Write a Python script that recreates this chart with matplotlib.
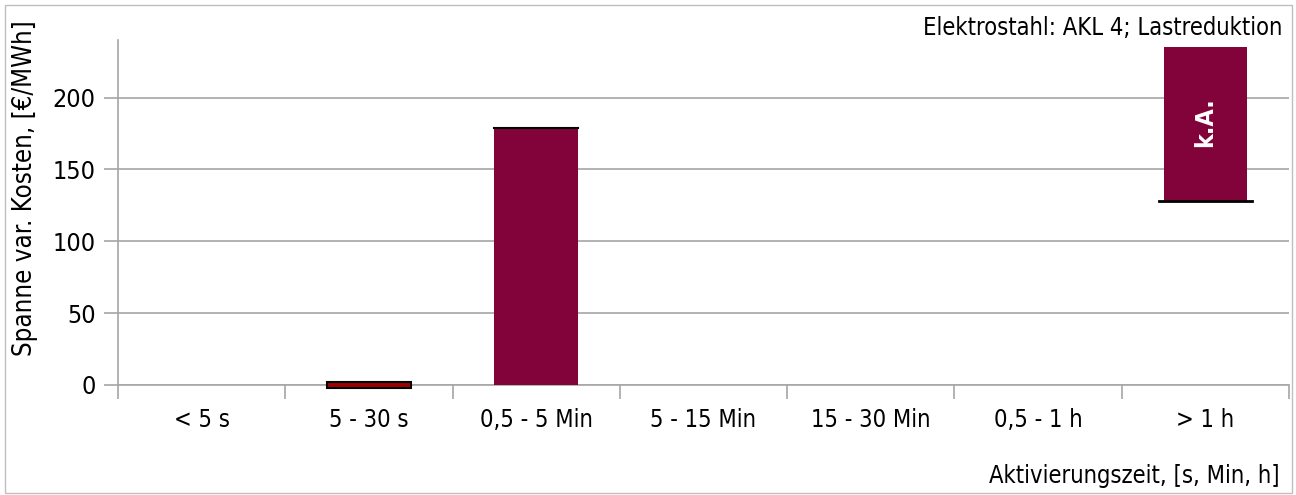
import matplotlib
matplotlib.use("Agg")
import matplotlib.pyplot as plt
from matplotlib.patches import Rectangle
from matplotlib import font_manager

categories = ["< 5 s", "5 - 30 s", "0,5 - 5 Min", "5 - 15 Min", "15 - 30 Min", "0,5 - 1 h", "> 1 h"]
# cost range per activation time: lower and upper bound (None = no data)
range_low = [None, -2, 0, None, None, None, 128]
range_high = [None, 2, 179, None, None, None, 235]
bar_notes = ["", "", "", "", "", "", "k.A."]
yticks = [0, 50, 100, 150, 200]

has_condensed = any(f.name == "DejaVu Sans" and f.stretch == "condensed"
                    for f in font_manager.fontManager.ttflist)
plt.rcParams["font.family"] = "DejaVu Sans"
if has_condensed:
    plt.rcParams["font.stretch"] = "condensed"
fs = 17 if has_condensed else 15

maroon = "#82033A"
grid_c = "#A6A6A6"

fig = plt.figure(figsize=(12.96, 4.95), dpi=100)
ax_w = 1289 - 118
ax = fig.add_axes([118 / 1296, 1 - 385 / 495, ax_w / 1296, (385 - 40) / 495])
ax.set_xlim(0, len(categories))
ax.set_ylim(0, 240)

for i, (lo, hi) in enumerate(zip(range_low, range_high)):
    if lo is None:
        continue
    x0 = i + 0.25
    if i == 1:
        ax.add_patch(Rectangle((x0, lo), 0.5, hi - lo, facecolor="#A00000",
                               edgecolor="black", linewidth=1.5, zorder=3, clip_on=False))
    else:
        ax.add_patch(Rectangle((x0, lo), 0.5, hi - lo, facecolor=maroon,
                               edgecolor="none", zorder=3))
    if bar_notes[i]:
        ax.text(i + 0.5, (lo + hi) / 2 + 1.5, bar_notes[i], rotation=90, color="white",
                ha="center", va="center", fontsize=fs + 1, fontweight="semibold", zorder=4)

# dark edge lines on the range bars
ax.plot([2.25, 2.75], [range_high[2], range_high[2]], color="black", lw=1.5, zorder=4)
ax.plot([6.22, 6.78], [range_low[6], range_low[6]], color="black", lw=2, zorder=4)

ax.set_yticks(yticks)
ax.set_yticklabels([str(v) for v in yticks], fontsize=fs + 1)
ax.yaxis.grid(True, color=grid_c, lw=1.2)
ax.set_axisbelow(True)
ax.tick_params(axis="y", length=10, color=grid_c, width=1.2, pad=6)

ax.set_xticks(range(len(categories) + 1))
ax.set_xticklabels([])
ax.tick_params(axis="x", length=10, color=grid_c, width=1.2)
for i, c in enumerate(categories):
    ax.text(i + 0.5, -24.5, c, ha="center", va="center", fontsize=fs)

for s in ["top", "right"]:
    ax.spines[s].set_visible(False)
ax.spines["left"].set_color(grid_c)
ax.spines["left"].set_linewidth(1.2)
ax.spines["bottom"].set_color(grid_c)
ax.spines["bottom"].set_linewidth(1.2)

ax.set_ylabel("Spanne var. Kosten, [€/MWh]", fontsize=fs + 1.5)
ax.yaxis.set_label_coords(-80 / ax_w, (385 - 188) / 345)

fig.text(1282 / 1296, 1 - 28 / 495, "Elektrostahl: AKL 4; Lastreduktion",
         ha="right", va="center", fontsize=fs)
fig.text(1280 / 1296, 1 - 476 / 495, "Aktivierungszeit, [s, Min, h]",
         ha="right", va="center", fontsize=fs)

fig.add_artist(Rectangle((5 / 1296, 2 / 495), 1287 / 1296, 488 / 495, transform=fig.transFigure,
                         facecolor="none", edgecolor="#BFBFBF", lw=1))

fig.savefig("out.png", dpi=100)
